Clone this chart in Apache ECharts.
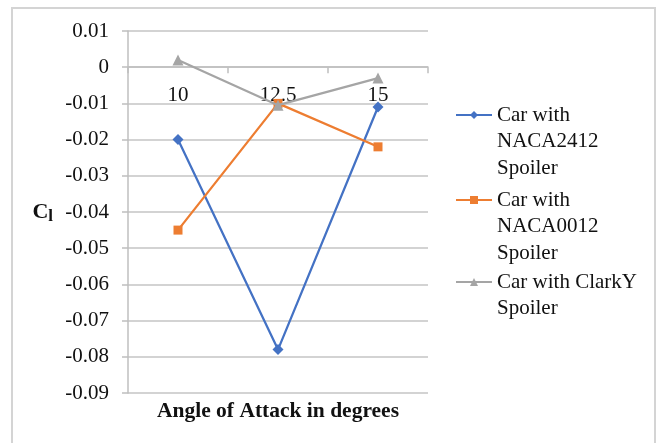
<!DOCTYPE html>
<html>
<head>
<meta charset="utf-8">
<script src="https://cdn.jsdelivr.net/npm/echarts@6/dist/echarts.min.js"></script>
<style>
  html, body { margin: 0; padding: 0; background: #ffffff; }
  #chart { width: 656px; height: 443px; }
</style>
</head>
<body>
<div id="chart"></div>
<script>
// Angle of attack (degrees) on the category axis
const angles = ['10', '12.5', '15'];

// Lift coefficient C_l for each spoiler profile
const naca2412 = [-0.020, -0.078, -0.011];
const naca0012 = [-0.045, -0.010, -0.022];
const clarkY = [0.002, -0.0105, -0.003];

// Value axis range and step
const yMin = -0.09;
const yMax = 0.01;
const yStep = 0.01;

const seriesNames = [
  'Car with NACA2412 Spoiler',
  'Car with NACA0012 Spoiler',
  'Car with ClarkY Spoiler'
];
const legendLines = [
  ['Car with', 'NACA2412', 'Spoiler'],
  ['Car with', 'NACA0012', 'Spoiler'],
  ['Car with ClarkY', 'Spoiler']
];

const FONT = '"Liberation Serif", "Times New Roman", serif';
const LH = 26.5;
const W = 656, H = 443;
const GRID = { left: 128, right: 228, top: 31, bottom: 50 };
const gridH = H - GRID.top - GRID.bottom;

// Legend entries: the marker sits beside the first text line, so the text
// block is padded with blank lines above to keep that line on the marker.
function legendFor(i, iconY) {
  const lines = legendLines[i];
  const n = lines.length;
  const padded = new Array(n - 1).fill('').concat(lines).join('\n');
  return {
    show: true,
    data: [seriesNames[i]],
    orient: 'vertical',
    left: 455,
    top: iconY - ((2 * n - 1) * LH) / 2,
    padding: 0,
    itemWidth: 36,
    itemHeight: 10,
    formatter: () => padded,
    textStyle: {
      fontFamily: FONT,
      fontSize: 21,
      color: '#111',
      lineHeight: LH
    }
  };
}

const chart = echarts.init(document.getElementById('chart'), null, { renderer: 'canvas' });

chart.setOption({
  backgroundColor: '#ffffff',
  animation: false,
  grid: Object.assign({ containLabel: false }, GRID),
  legend: [legendFor(0, 115), legendFor(1, 200), legendFor(2, 282)],
  graphic: [
    {
      type: 'rect',
      shape: { x: 12, y: 8, width: 643, height: 460 },
      style: { fill: 'none', stroke: '#d4d4d4', lineWidth: 2 },
      silent: true
    },
    {
      type: 'text',
      x: 278,
      y: 411,
      style: {
        text: 'Angle of Attack in degrees',
        font: 'bold 21.5px ' + FONT,
        fill: '#111',
        align: 'center',
        verticalAlign: 'middle'
      }
    }
  ],
  // Category axis runs along the zero line, labels hanging below it
  xAxis: {
    type: 'category',
    data: angles,
    boundaryGap: true,
    position: 'top',
    offset: -gridH * (yMax / (yMax - yMin)),
    axisLine: { show: true, onZero: false, lineStyle: { color: '#bfbfbf', width: 1.5 } },
    axisTick: { show: true, inside: true, length: 6, alignWithLabel: false, lineStyle: { color: '#bfbfbf', width: 1.5 } },
    axisLabel: { inside: true, margin: 18, fontFamily: FONT, fontSize: 21, color: '#111' },
    splitLine: { show: false }
  },
  yAxis: {
    type: 'value',
    min: yMin,
    max: yMax,
    interval: yStep,
    name: 'C{sub|l}',
    nameLocation: 'middle',
    nameRotate: 0,
    nameGap: 75,
    nameTextStyle: {
      fontFamily: FONT,
      fontSize: 22,
      fontWeight: 'bold',
      color: '#111',
      rich: {
        sub: { fontFamily: FONT, fontSize: 17, fontWeight: 'bold', color: '#111', verticalAlign: 'bottom', padding: [10, 0, 0, 0] }
      }
    },
    axisLine: { show: true, lineStyle: { color: '#bfbfbf', width: 1.5 } },
    axisTick: { show: true, length: 6, lineStyle: { color: '#bfbfbf', width: 1.5 } },
    axisLabel: {
      margin: 19,
      fontFamily: FONT,
      fontSize: 21,
      color: '#111',
      formatter: v => String(Math.round(v * 100) / 100)
    },
    splitLine: { show: true, lineStyle: { color: '#c4c4c4', width: 1.5 } }
  },
  series: [
    {
      name: seriesNames[0],
      type: 'line',
      data: naca2412,
      symbol: 'diamond',
      symbolSize: 11,
      itemStyle: { color: '#4472C4' },
      lineStyle: { color: '#4472C4', width: 2.25 },
      z: 3
    },
    {
      name: seriesNames[1],
      type: 'line',
      data: naca0012,
      symbol: 'rect',
      symbolSize: 9,
      itemStyle: { color: '#ED7D31' },
      lineStyle: { color: '#ED7D31', width: 2.25 },
      z: 4
    },
    {
      name: seriesNames[2],
      type: 'line',
      data: clarkY,
      symbol: 'triangle',
      symbolSize: 11,
      itemStyle: { color: '#A5A5A5' },
      lineStyle: { color: '#A5A5A5', width: 2.25 },
      z: 5
    }
  ]
});
</script>
</body>
</html>
